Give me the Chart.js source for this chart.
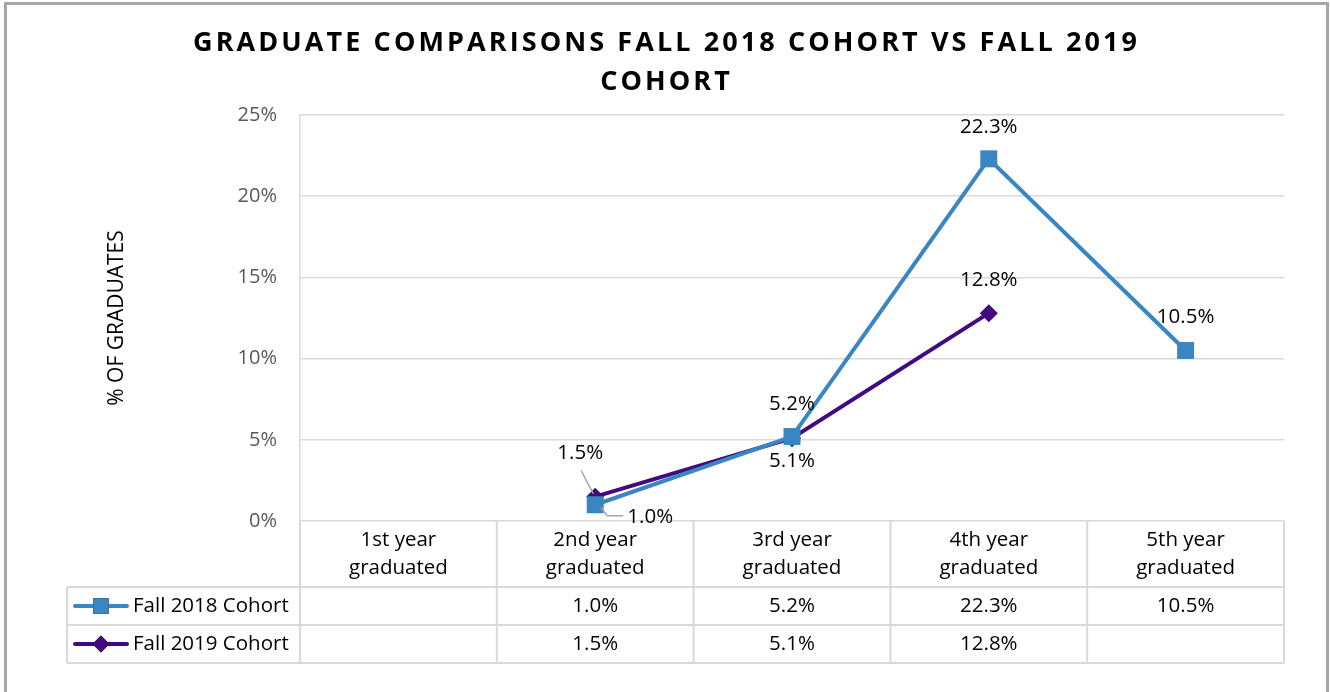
<!DOCTYPE html>
<html>
<head>
<meta charset="utf-8">
<script src="https://cdn.jsdelivr.net/npm/chart.js@4.4.1/dist/chart.umd.min.js"></script>
<style>
  html, body { margin: 0; padding: 0; background: #ffffff; }
  #wrap { position: relative; width: 1330px; height: 692px; }
  canvas { display: block; }
</style>
</head>
<body>
<div id="wrap"><canvas id="c" width="1330" height="692"></canvas></div>
<script>
// ---- data ----
const titleLines = ['GRADUATE COMPARISONS FALL 2018 COHORT VS FALL 2019', 'COHORT'];
const categories = [['1st year', 'graduated'], ['2nd year', 'graduated'], ['3rd year', 'graduated'], ['4th year', 'graduated'], ['5th year', 'graduated']];
const seriesNames = ['Fall 2018 Cohort', 'Fall 2019 Cohort'];
const fall2018 = [null, 1.0, 5.2, 22.3, 10.5];
const fall2019 = [null, 1.5, 5.1, 12.8, null];
const yTicks = [0, 5, 10, 15, 20, 25];
const yTitle = '% OF GRADUATES';

// ---- styles ----
const FONT = "'Open Sans', 'DejaVu Sans', sans-serif";
const BLUE = '#3A86C3';
const PURPLE = '#410A80';
const GRID = '#d9d9d9';
// label placement per series / point: [dx, dy, leader]
const labelPlacement = [
  [null, [55, 12, 'right'], [0, -32], [0, -32], [0, -33]],
  [null, [-15, -43, 'left'], [0, 23], [0, -33], null]
];

const pctFmt = v => v.toFixed(1) + '%';

const framePlugin = {
  id: 'frame',
  beforeDraw(chart) {
    const ctx = chart.ctx;
    ctx.save();
    ctx.fillStyle = '#ffffff';
    ctx.fillRect(0, 0, chart.width, chart.height);
    ctx.strokeStyle = '#a6a6a6';
    ctx.lineWidth = 3;
    ctx.strokeRect(5.5, 3.5, chart.width - 8, chart.height + 20);
    ctx.restore();
  }
};

const titlePlugin = {
  id: 'customTitle',
  afterDraw(chart) {
    const ctx = chart.ctx;
    ctx.save();
    ctx.font = "bold 27px " + FONT;
    ctx.fillStyle = '#000000';
    ctx.textBaseline = 'middle';
    ctx.textAlign = 'left';
    const targetW = 944;
    const w0 = ctx.measureText(titleLines[0]).width;
    const sp = (targetW - w0) / (titleLines[0].length - 1);
    ctx.letterSpacing = sp + 'px';
    const cx = 665;
    const ys = [43, 82];
    titleLines.forEach((t, i) => {
      const w = ctx.measureText(t).width - sp;
      ctx.fillText(t, cx - w / 2, ys[i]);
    });
    ctx.restore();
  }
};

const tablePlugin = {
  id: 'dataTable',
  afterDraw(chart) {
    const ctx = chart.ctx;
    const xs = chart.scales.x;
    const area = chart.chartArea;
    const n = categories.length;
    const step = (area.right - area.left) / n;
    const top = area.bottom;
    const headerH = 66, rowH = 38;
    const legendLeft = 67;
    const r1 = top + headerH, r2 = r1 + rowH, r3 = r2 + rowH;
    ctx.save();
    ctx.strokeStyle = GRID;
    ctx.lineWidth = 2;
    ctx.beginPath();
    for (let i = 0; i <= n; i++) {
      const x = area.left + i * step;
      ctx.moveTo(x, top); ctx.lineTo(x, r3);
    }
    ctx.moveTo(legendLeft, r1); ctx.lineTo(legendLeft, r3);
    [r1, r2, r3].forEach(y => { ctx.moveTo(legendLeft, y); ctx.lineTo(area.right, y); });
    ctx.stroke();

    ctx.fillStyle = '#000000';
    ctx.font = "20.5px " + FONT;
    ctx.textAlign = 'center';
    ctx.textBaseline = 'middle';
    categories.forEach((lines, i) => {
      const cx = xs.getPixelForValue(i);
      lines.forEach((t, j) => ctx.fillText(t, cx, top + 19 + j * 28));
    });
    const rows = [fall2018, fall2019];
    const rowY = [(r1 + r2) / 2, (r2 + r3) / 2];
    rows.forEach((arr, ri) => {
      arr.forEach((v, i) => {
        if (v === null) return;
        ctx.fillText(pctFmt(v), xs.getPixelForValue(i), rowY[ri]);
      });
    });
    const colors = [BLUE, PURPLE];
    const styles = ['rect', 'rectRot'];
    rows.forEach((arr, ri) => {
      const y = rowY[ri];
      ctx.strokeStyle = colors[ri];
      ctx.lineWidth = 4;
      ctx.lineCap = 'round';
      ctx.beginPath(); ctx.moveTo(75, y); ctx.lineTo(127, y); ctx.stroke();
      Chart.helpers.drawPoint(ctx, { pointStyle: styles[ri], radius: ri === 0 ? 11 : 8.5, borderWidth: 0 }, 101, y);
      ctx.fillStyle = colors[ri];
      ctx.fill();
      ctx.fillStyle = '#000000';
      ctx.textAlign = 'left';
      ctx.fillText(seriesNames[ri], 133, y);
    });
    ctx.restore();
  }
};

const labelPlugin = {
  id: 'pointLabels',
  afterDatasetsDraw(chart) {
    const ctx = chart.ctx;
    ctx.save();
    ctx.font = "20.5px " + FONT;
    ctx.fillStyle = '#000000';
    ctx.textAlign = 'center';
    ctx.textBaseline = 'middle';
    chart.data.datasets.forEach((ds, di) => {
      const meta = chart.getDatasetMeta(di);
      meta.data.forEach((pt, i) => {
        const v = ds.data[i];
        const pl = labelPlacement[di][i];
        if (v === null || !pl) return;
        const lx = pt.x + pl[0], ly = pt.y + pl[1];
        if (pl[2]) {
          ctx.strokeStyle = '#a6a6a6';
          ctx.lineWidth = 1.5;
          ctx.beginPath();
          if (pl[2] === 'right') {
            ctx.moveTo(pt.x + 6, pt.y + 3);
            ctx.lineTo(pt.x + 12, ly - 1);
            ctx.lineTo(lx - 27, ly - 1);
          } else {
            ctx.moveTo(pt.x - 2, pt.y - 3);
            ctx.lineTo(lx + 1, ly + 17);
          }
          ctx.stroke();
        }
        ctx.fillText(pctFmt(v), lx, ly);
      });
    });
    ctx.restore();
  }
};

new Chart(document.getElementById('c'), {
  type: 'line',
  data: {
    labels: categories.map(c => c.join(' ')),
    datasets: [
      {
        label: seriesNames[0], data: fall2018,
        borderColor: BLUE, backgroundColor: BLUE, borderWidth: 4,
        pointStyle: 'rect', pointRadius: 12, pointBorderWidth: 0,
        pointBackgroundColor: BLUE, tension: 0, spanGaps: false
      },
      {
        label: seriesNames[1], data: fall2019,
        borderColor: PURPLE, backgroundColor: PURPLE, borderWidth: 4,
        pointStyle: 'rectRot', pointRadius: 9, pointBorderWidth: 0,
        pointBackgroundColor: PURPLE, tension: 0, spanGaps: false
      }
    ]
  },
  options: {
    responsive: false,
    animation: false,
    events: [],
    layout: { padding: { left: 0, top: 115, right: 46, bottom: 171 } },
    plugins: { legend: { display: false }, title: { display: false }, tooltip: { enabled: false } },
    scales: {
      x: { type: 'category', display: false, offset: true },
      y: {
        min: 0, max: 25,
        afterFit(scale) { scale.width = 300; },
        afterBuildTicks(scale) { scale.ticks = yTicks.map(v => ({ value: v })); },
        ticks: { color: '#595959', font: { family: FONT, size: 20 }, padding: 23, callback: v => v + '%' },
        grid: { color: GRID, lineWidth: 1.5, drawTicks: false },
        border: { display: true, color: GRID, width: 1.5 },
        title: { display: true, text: yTitle, color: '#000000', font: { family: FONT, size: 21 }, padding: { top: 104, bottom: 0 } }
      }
    }
  },
  plugins: [framePlugin, titlePlugin, tablePlugin, labelPlugin]
});
</script>
</body>
</html>
